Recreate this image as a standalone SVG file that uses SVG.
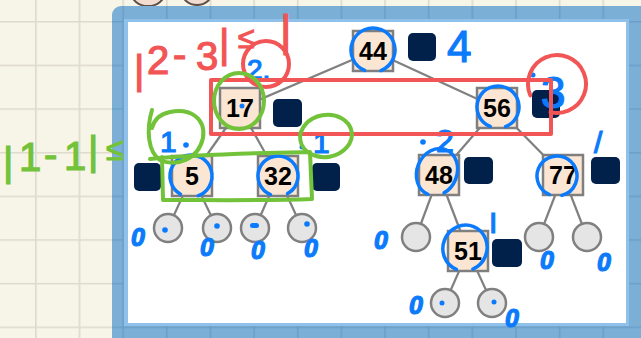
<svg xmlns="http://www.w3.org/2000/svg" width="641" height="338" viewBox="0 0 641 338">
<style>
.box{fill:#fbe6d4;stroke:#7f7f7f;stroke-width:2.5}
.bf{fill:#01214a}
.lbl{font-family:"Liberation Sans",Arial,sans-serif;font-weight:bold;font-size:25px;fill:#000;text-anchor:middle}
.nil{fill:#e5e5e5;stroke:#808080;stroke-width:2.5}
.edge{stroke:#808080;stroke-width:2.2;fill:none}
.bl{fill:none;stroke:#0b7bfb;stroke-width:3.5;stroke-linecap:round}
.rd{fill:none;stroke:#f25555;stroke-width:4;stroke-linecap:round;stroke-linejoin:round}
.gr{fill:none;stroke:#72c23a;stroke-width:4;stroke-linecap:round;stroke-linejoin:round}
.hb{font-family:"Liberation Sans",Arial,sans-serif;fill:#0b7bfb;stroke:#0b7bfb;stroke-width:1.2}
.hr{font-family:"Liberation Sans",Arial,sans-serif;fill:#f25555;stroke:#f25555;stroke-width:1.2}
.hg{font-family:"Liberation Sans",Arial,sans-serif;fill:#72c23a;stroke:#72c23a;stroke-width:1.2}
.dot{fill:#0b7bfb}
</style>
<defs>
<pattern id="gridC" x="35" y="21" width="43.65" height="43.65" patternUnits="userSpaceOnUse">
<rect width="43.65" height="43.65" fill="#f7f4e8"/>
<path d="M0.8 0V43.65M0 0.8H43.65" stroke="#dedbcc" stroke-width="1.6"/>
</pattern>
<pattern id="gridB" x="35" y="21" width="43.65" height="43.65" patternUnits="userSpaceOnUse">
<rect width="43.65" height="43.65" fill="#7bafd6"/>
<path d="M0.8 0V43.65M0 0.8H43.65" stroke="#6a9fca" stroke-width="1.6"/>
</pattern>
</defs>
<rect width="641" height="338" fill="url(#gridC)"/>
<ellipse cx="148" cy="-8" rx="17" ry="14" fill="#f1dccf" stroke="#5e5048" stroke-width="2"/>
<ellipse cx="197" cy="-8" rx="15" ry="13" fill="#f1dccf" stroke="#5e5048" stroke-width="2"/>
<rect x="112" y="6" width="600" height="400" rx="9" fill="url(#gridB)"/>
<rect x="124" y="19" width="505" height="307" fill="#90c1ea"/>
<rect x="128" y="22" width="498" height="301" fill="#ffffff"/>

<g id="edges">
<line class="edge" x1="373" y1="51" x2="240" y2="108"/>
<line class="edge" x1="373" y1="51" x2="497" y2="108"/>
<line class="edge" x1="240" y1="108" x2="192" y2="176"/>
<line class="edge" x1="240" y1="108" x2="278" y2="176"/>
<line class="edge" x1="497" y1="108" x2="439" y2="175"/>
<line class="edge" x1="497" y1="108" x2="563" y2="175"/>
<line class="edge" x1="192" y1="176" x2="168" y2="228"/>
<line class="edge" x1="192" y1="176" x2="217" y2="228"/>
<line class="edge" x1="278" y1="176" x2="255" y2="228"/>
<line class="edge" x1="278" y1="176" x2="302" y2="228"/>
<line class="edge" x1="439" y1="175" x2="416" y2="237"/>
<line class="edge" x1="439" y1="175" x2="468" y2="251"/>
<line class="edge" x1="563" y1="175" x2="539" y2="237"/>
<line class="edge" x1="563" y1="175" x2="587" y2="237"/>
<line class="edge" x1="468" y1="251" x2="445" y2="303"/>
<line class="edge" x1="468" y1="251" x2="492" y2="303"/>
</g>

<g id="node-44"><rect class="box" x="353" y="31" width="40" height="40"/><text class="lbl" x="373" y="60">44</text><rect class="bf" x="408" y="33" width="28" height="28" rx="5"/></g>
<g id="node-17"><rect class="box" x="220" y="88" width="40" height="40"/><text class="lbl" x="240" y="117">17</text><rect class="bf" x="273" y="99" width="29" height="28" rx="5"/></g>
<g id="node-56"><rect class="box" x="477" y="88" width="40" height="40"/><text class="lbl" x="497" y="117">56</text><rect class="bf" x="532" y="90" width="28" height="28" rx="5"/></g>
<g id="node-5"><rect class="box" x="172" y="156" width="40" height="40"/><text class="lbl" x="192" y="185">5</text><rect class="bf" x="134" y="163" width="27" height="28" rx="5"/></g>
<g id="node-32"><rect class="box" x="258" y="156" width="40" height="40"/><text class="lbl" x="278" y="185">32</text><rect class="bf" x="312" y="163" width="28" height="28" rx="5"/></g>
<g id="node-48"><rect class="box" x="419" y="155" width="40" height="40"/><text class="lbl" x="439" y="184">48</text><rect class="bf" x="464" y="157" width="29" height="27" rx="5"/></g>
<g id="node-77"><rect class="box" x="543" y="155" width="40" height="40"/><text class="lbl" x="563" y="184">77</text><rect class="bf" x="591" y="157" width="29" height="27" rx="5"/></g>
<g id="node-51"><rect class="box" x="448" y="231" width="40" height="40"/><text class="lbl" x="468" y="260">51</text><rect class="bf" x="492" y="239" width="30" height="28" rx="5"/></g>

<g id="null-5L"><circle class="nil" cx="168" cy="228" r="14"/></g>
<g id="null-5R"><circle class="nil" cx="217" cy="228" r="14"/></g>
<g id="null-32L"><circle class="nil" cx="255" cy="228" r="14"/></g>
<g id="null-32R"><circle class="nil" cx="302" cy="228" r="14"/></g>
<g id="null-48L"><circle class="nil" cx="416" cy="237" r="14"/></g>
<g id="null-77L"><circle class="nil" cx="539" cy="237" r="14"/></g>
<g id="null-77R"><circle class="nil" cx="587" cy="237" r="14"/></g>
<g id="null-51L"><circle class="nil" cx="445" cy="303" r="14"/></g>
<g id="null-51R"><circle class="nil" cx="492" cy="303" r="14"/></g>

<g id="annotations">
<circle class="bl" cx="373" cy="50" r="22" pathLength="100" stroke-dasharray="88 12" transform="rotate(112 373 50)"/>
<circle class="bl" cx="498" cy="107" r="21" pathLength="100" stroke-dasharray="88 12" transform="rotate(112 498 107)"/>
<circle class="bl" cx="191" cy="176" r="21" pathLength="100" stroke-dasharray="86 14" transform="rotate(120 191 176)"/>
<circle class="bl" cx="278" cy="176" r="20" pathLength="100" stroke-dasharray="86 14" transform="rotate(112 278 176)"/>
<ellipse class="bl" cx="437" cy="172" rx="24" ry="20" pathLength="100" stroke-dasharray="88 12" transform="rotate(112 437 172)"/>
<circle class="bl" cx="557" cy="176" r="20" pathLength="100" stroke-dasharray="90 10" transform="rotate(112 557 176)"/>
<ellipse class="bl" cx="465" cy="248" rx="23" ry="22" pathLength="100" stroke-dasharray="88 12" transform="rotate(112 465 248)"/>

<text class="hb" x="447" y="62" font-size="44">4</text>
<text class="hb" x="247" y="79" font-size="28">2.</text>
<text class="hb" x="541" y="108" font-size="44">3</text>
<circle class="dot" cx="533" cy="75" r="2.5"/>
<text class="hb" x="160" y="152" font-size="30">1</text>
<circle class="dot" cx="186" cy="145" r="2.8"/>
<text class="hb" x="313" y="153" font-size="30">1</text>
<circle class="dot" cx="302" cy="147" r="2.5"/>
<text class="hb" x="436" y="152" font-size="32">2</text>
<circle class="dot" cx="423" cy="142" r="2.8"/>
<text class="hb" x="594" y="153" font-size="30">/</text>
<text class="hb" x="489" y="233" font-size="30" font-family="Liberation Serif">I</text>
<circle class="dot" cx="242" cy="106" r="2.5"/>
<circle class="dot" cx="165" cy="230" r="2.8"/>
<circle class="dot" cx="217" cy="226" r="2.8"/>
<rect class="dot" x="250" y="223" width="9" height="5" rx="2.5"/>
<circle class="dot" cx="307" cy="224" r="2.8"/>
<circle class="dot" cx="442" cy="303" r="2.5"/>
<circle class="dot" cx="494" cy="302" r="2.5"/>
<text class="hb" font-size="25" font-style="italic" font-weight="bold">
<tspan x="131" y="246">0</tspan><tspan x="200" y="256">0</tspan><tspan x="251" y="259">0</tspan><tspan x="304" y="257">0</tspan><tspan x="374" y="249">0</tspan><tspan x="540" y="269">0</tspan><tspan x="597" y="271">0</tspan><tspan x="409" y="314">0</tspan><tspan x="505" y="327">0</tspan>
</text>

<rect class="rd" x="211" y="80" width="340" height="54"/>
<circle class="rd" cx="266" cy="64" r="23"/>
<circle class="rd" cx="557" cy="84" r="29" pathLength="100" stroke-dasharray="85 15" transform="rotate(157 557 84)"/>
<text class="hr" font-size="40"><tspan x="134" y="84">|</tspan><tspan x="147" y="74">2</tspan><tspan x="173" y="68">-</tspan><tspan x="196" y="70">3</tspan><tspan x="219" y="58">|</tspan><tspan x="238" y="48" font-size="30">≤</tspan><tspan x="280" y="46" font-size="44">|</tspan></text>

<ellipse class="gr" cx="239" cy="101" rx="25" ry="28"/>
<path class="gr" d="M152,110 C146,130 148,152 160,160 C176,167 198,160 203,138 C206,118 190,108 170,112 C160,114 154,120 152,128"/>
<path class="gr" d="M150,159 C200,154 260,153 310,152 L312,199 C260,201 210,200 163,200 L162,157"/>
<ellipse class="gr" cx="326" cy="136" rx="26" ry="21" transform="rotate(-10 326 136)"/>
<text class="hg" font-size="40"><tspan x="3" y="176">|</tspan><tspan x="19" y="171">1</tspan><tspan x="44" y="168">-</tspan><tspan x="64" y="170">1</tspan><tspan x="88" y="165">|</tspan><tspan x="106" y="160" font-size="32">≤</tspan></text>
</g>
</svg>
